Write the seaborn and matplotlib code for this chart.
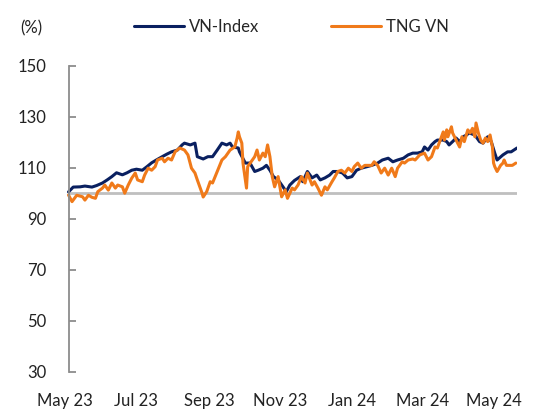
import matplotlib
matplotlib.use("Agg")
import pandas as pd
import matplotlib.pyplot as plt
import matplotlib.dates as mdates
import seaborn as sns

# Data (rebased to 100), x as days since START
START = pd.Timestamp("2023-05-01")

vn_day = [3, 7, 13, 17, 23, 27, 32, 36, 40, 44, 49, 53, 57, 61, 66, 70, 74, 78, 83, 87,
          91, 96, 100, 102, 107, 111, 113, 118, 122, 126, 130, 134, 138, 141, 143, 148, 149,
          154, 158, 162, 165, 169, 172, 175, 178, 182, 186, 189, 192, 196, 201, 203, 207,
          211, 215, 218, 222, 226, 229, 233, 237, 241, 245, 249, 253, 258, 262, 267, 271,
          276, 280, 284, 289, 293, 297, 301, 305, 307, 310, 313, 316, 318, 323, 326, 328,
          331, 334, 337, 340, 343, 345, 350, 354, 357, 361, 364, 367, 369, 374, 378, 381, 386]
vn_index = [100.5, 102.4, 102.5, 102.8, 102.4, 103.0, 104.0, 105.2, 106.5, 108.0, 107.2,
            108.0, 109.0, 109.4, 109.0, 110.4, 111.9, 113.0, 114.3, 115.3, 116.2, 116.9,
            118.9, 119.6, 118.9, 119.6, 114.3, 113.4, 114.3, 114.3, 116.9, 119.6, 118.9,
            119.6, 118.1, 117.7, 116.2, 111.8, 111.8, 108.5, 109.0, 109.8, 110.9, 109.0,
            106.5, 105.2, 102.6, 100.6, 103.2, 105.0, 106.5, 104.5, 108.5, 106.0, 107.1,
            105.2, 106.0, 107.1, 108.5, 108.5, 107.9, 106.0, 106.5, 109.0, 109.8, 110.4,
            110.9, 111.8, 113.0, 113.7, 112.3, 113.0, 113.7, 115.0, 115.7, 115.7, 116.2,
            118.1, 116.9, 118.9, 120.2, 120.8, 120.8, 120.2, 118.9, 120.2, 121.6, 120.2,
            122.1, 122.8, 123.6, 122.8, 120.2, 119.6, 122.1, 120.2, 115.7, 113.0, 115.0,
            116.2, 116.2, 117.7]

tng_day = [3, 6, 10, 15, 17, 20, 23, 26, 28, 32, 34, 37, 40, 43, 45, 49, 51, 54, 57, 60,
           62, 66, 68, 71, 74, 77, 79, 83, 85, 88, 91, 94, 98, 102, 105, 108, 111, 113, 117,
           118, 121, 124, 126, 130, 134, 137, 141, 145, 147, 148, 149, 151, 152, 155, 156,
           160, 162, 164, 166, 169, 171, 173, 175, 177, 179, 182, 185, 188, 190, 194, 196,
           199, 202, 205, 207, 211, 213, 216, 219, 222, 224, 228, 230, 233, 236, 239, 242,
           245, 247, 250, 253, 256, 259, 262, 264, 267, 270, 273, 276, 279, 282, 284, 288,
           290, 293, 297, 299, 303, 307, 310, 313, 316, 318, 322, 323, 324, 326, 327, 330,
           331, 334, 337, 339, 341, 344, 346, 348, 350, 351, 353, 355, 357, 359, 361, 363,
           365, 366, 367, 369, 372, 374, 375, 377, 380, 382, 385]
tng_vn = [99.3, 96.7, 99.2, 98.6, 97.3, 99.2, 98.4, 98.0, 100.6, 102.0, 103.2, 101.2,
          104.0, 102.0, 103.2, 102.5, 100.0, 103.2, 105.9, 107.9, 105.2, 104.5, 107.1,
          109.8, 109.0, 110.4, 113.0, 113.7, 112.3, 113.7, 113.0, 116.2, 117.7, 116.9,
          115.0, 109.8, 107.9, 105.2, 100.1, 98.5, 100.6, 104.5, 104.0, 108.5, 113.0,
          114.3, 116.9, 118.1, 121.6, 124.0, 122.1, 119.6, 111.8, 102.0, 110.4, 113.0,
          114.3, 116.9, 113.0, 115.7, 114.3, 118.9, 114.3, 106.5, 102.5, 106.5, 98.6,
          101.3, 98.0, 102.0, 101.3, 103.2, 106.5, 104.0, 107.9, 103.2, 104.5, 102.0,
          99.2, 102.5, 101.3, 104.5, 106.0, 108.5, 109.0, 107.9, 109.8, 108.5, 110.4,
          111.8, 109.8, 110.9, 110.9, 110.9, 112.3, 110.9, 107.9, 109.8, 107.1, 109.8,
          106.5, 109.8, 112.3, 111.8, 113.0, 113.4, 113.0, 115.0, 115.7, 113.0, 114.3,
          118.1, 117.7, 122.8, 124.0, 120.8, 124.8, 122.1, 126.0, 123.6, 120.8, 118.1,
          122.1, 120.2, 124.8, 123.6, 125.4, 122.1, 127.5, 123.6, 120.8, 119.6, 121.6,
          120.2, 122.8, 118.1, 111.8, 110.4, 108.5, 110.9, 111.8, 113.0, 110.9, 110.9,
          110.9, 111.8]

series_names = ["VN-Index", "TNG VN"]
colors = ["#0A2060", "#F07A1A"]
y_ticks = [30, 50, 70, 90, 110, 130, 150]
x_tick_dates = ["2023-05-01", "2023-07-01", "2023-09-01", "2023-11-01",
                "2024-01-01", "2024-03-01", "2024-05-01"]

df = pd.concat([
    pd.DataFrame({"date": START + pd.to_timedelta(vn_day, unit="D"),
                  "value": vn_index, "series": series_names[0]}),
    pd.DataFrame({"date": START + pd.to_timedelta(tng_day, unit="D"),
                  "value": tng_vn, "series": series_names[1]}),
], ignore_index=True)

sns.set_style("white")
plt.rcParams["font.family"] = ["Lato", "DejaVu Sans"]

fig = plt.figure(figsize=(5.48, 4.13), dpi=100)
ax = fig.add_axes([65 / 548, 1 - 372 / 413, (517 - 65) / 548, (372 - 65.5) / 413])

first_date = df["date"].min()
last_date = df["date"].max()

# baseline at 100
ax.hlines(100, first_date, last_date, color="#BFBFBF", linewidth=2.0, zorder=1)

sns.lineplot(data=df, x="date", y="value", hue="series", hue_order=series_names,
             palette=colors, linewidth=2.2, ax=ax, zorder=2)

ax.set_xlim(START, last_date)
ax.set_ylim(30, 150)
ax.set_yticks(y_ticks)
ax.set_xticks(pd.to_datetime(x_tick_dates))
ax.xaxis.set_major_formatter(mdates.DateFormatter("%b %y"))
ax.set_xlabel("")
ax.set_ylabel("")

for side in ["top", "right", "bottom"]:
    ax.spines[side].set_visible(False)
ax.spines["left"].set_position(("data", mdates.date2num(first_date)))
ax.spines["left"].set_color("#8C8C8C")
ax.spines["left"].set_linewidth(1.3)

ax.tick_params(axis="y", left=True, direction="in", length=5, width=1.3, color="#8C8C8C",
               pad=16, labelsize=12, labelcolor="#222222")
ax.tick_params(axis="x", bottom=False, length=0, pad=15, labelsize=12, labelcolor="#222222")

handles, labels = ax.get_legend_handles_labels()
ax.legend(handles, labels, loc="center", bbox_to_anchor=(291 / 548, 1 - 27 / 413),
          bbox_transform=fig.transFigure, ncol=2, frameon=False, fontsize=12,
          handlelength=3.0, handletextpad=0.3, columnspacing=4.3)

fig.text(20 / 548, 1 - 28 / 413, "(%)", fontsize=12, va="center", color="#222222")

fig.savefig("out.png", dpi=100)
